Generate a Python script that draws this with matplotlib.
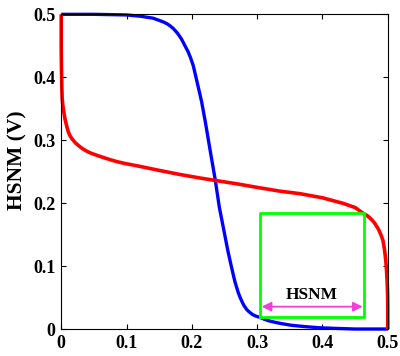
import numpy as np
import matplotlib
matplotlib.use('Agg')
import matplotlib.pyplot as plt

# inverter transfer curves (butterfly plot), hold mode
vin_a = [0, 0.05, 0.10, 0.11, 0.121, 0.13, 0.14, 0.151, 0.157, 0.162, 0.167, 0.172,
         0.178, 0.184, 0.189, 0.1945, 0.198, 0.202, 0.205, 0.208, 0.2115, 0.215,
         0.221, 0.228, 0.236, 0.242, 0.249, 0.255, 0.261, 0.266, 0.271, 0.274,
         0.277, 0.280, 0.284, 0.288, 0.293, 0.298, 0.304, 0.311, 0.318, 0.326,
         0.335, 0.352, 0.371, 0.395, 0.42, 0.45, 0.5]
vout_a = [0.5, 0.5, 0.499, 0.498, 0.497, 0.4955, 0.494, 0.490, 0.4875, 0.485, 0.4815,
          0.477, 0.470, 0.461, 0.451, 0.440, 0.431, 0.419, 0.406, 0.3925, 0.377, 0.361,
          0.327, 0.284, 0.236, 0.194, 0.157, 0.125, 0.097, 0.075, 0.058, 0.050,
          0.043, 0.037, 0.031, 0.027, 0.023, 0.0205, 0.0185, 0.0155, 0.013, 0.011,
          0.009, 0.006, 0.004, 0.002, 0.001, 0.0, 0.0]

vin_b = [0, 0.0, 0.0002, 0.0005, 0.001, 0.0015, 0.0025, 0.0035, 0.0057, 0.009, 0.011,
         0.013, 0.016, 0.019, 0.022, 0.026, 0.030, 0.035, 0.040, 0.0465, 0.06, 0.072,
         0.085, 0.0975, 0.12, 0.15, 0.182, 0.212, 0.236, 0.27, 0.30, 0.335, 0.3655,
         0.40, 0.432, 0.45, 0.4625, 0.468, 0.472, 0.476, 0.480, 0.483, 0.486, 0.4885,
         0.4907, 0.4925, 0.4935, 0.4947, 0.4957, 0.497, 0.498, 0.499, 0.4995, 0.4998,
         0.5, 0.5]
vout_b = [0.5, 0.45, 0.43, 0.408, 0.385, 0.366, 0.355, 0.348, 0.334, 0.320, 0.313,
          0.308, 0.303, 0.299, 0.2955, 0.292, 0.2885, 0.285, 0.282, 0.279, 0.274, 0.270,
          0.266, 0.263, 0.2585, 0.252, 0.2455, 0.240, 0.236, 0.2305, 0.225, 0.219, 0.215,
          0.2085, 0.1995, 0.193, 0.1836, 0.1805, 0.177, 0.173, 0.168, 0.163, 0.158, 0.152,
          0.1465, 0.141, 0.135, 0.128, 0.120, 0.108, 0.0937, 0.075, 0.062, 0.051,
          0.03, 0.0]

# largest square between the curves
box_x = [0.304, 0.4635]
box_y = [0.0195, 0.184]
snm_arrow_y = 0.0355

ticks = [0, 0.1, 0.2, 0.3, 0.4, 0.5]
tick_labels = ['0', '0.1', '0.2', '0.3', '0.4', '0.5']

plt.rcParams['font.family'] = 'Liberation Serif'
plt.rcParams['font.weight'] = 'bold'

fig = plt.figure(figsize=(4, 3.56), dpi=100)
ax = fig.add_axes([0.153, 0.0758, 0.8165, 0.884])

ax.plot(vin_a, vout_a, color=(0, 0, 1), lw=2.4, clip_on=False,
        solid_capstyle='butt', solid_joinstyle='round')
ax.plot(vin_b, vout_b, color=(1, 0, 0), lw=2.6, clip_on=False,
        solid_capstyle='butt', solid_joinstyle='round')

bx = [box_x[0], box_x[1], box_x[1], box_x[0], box_x[0]]
by = [box_y[0], box_y[0], box_y[1], box_y[1], box_y[0]]
ax.plot(bx, by, color=(0, 1, 0), lw=2.0)

ax.annotate('', xy=(box_x[1] - 0.002, snm_arrow_y), xytext=(box_x[0] + 0.003, snm_arrow_y),
            arrowprops=dict(arrowstyle='<|-|>', color=(0.94, 0.25, 0.85), lw=1.3,
                            mutation_scale=14, shrinkA=0, shrinkB=0))
ax.text((box_x[0] + box_x[1]) / 2, 0.054, 'HSNM', ha='center', va='center',
        fontsize=12.5, fontweight='bold')

ax.set_xlim(0, 0.5)
ax.set_ylim(0, 0.5)
ax.set_xticks(ticks)
ax.set_xticklabels(tick_labels)
ax.set_yticks(ticks)
ax.set_yticklabels(tick_labels)
ax.tick_params(direction='in', top=True, right=True, length=3.5, width=0.8,
               labelsize=13, pad=4)
for s in ax.spines.values():
    s.set_linewidth(0.8)

ax.set_ylabel('HSNM (V)', fontsize=15.5, fontweight='bold')
ax.yaxis.set_label_coords(-0.102, 0.536)

fig.savefig('out.png', dpi=100)
